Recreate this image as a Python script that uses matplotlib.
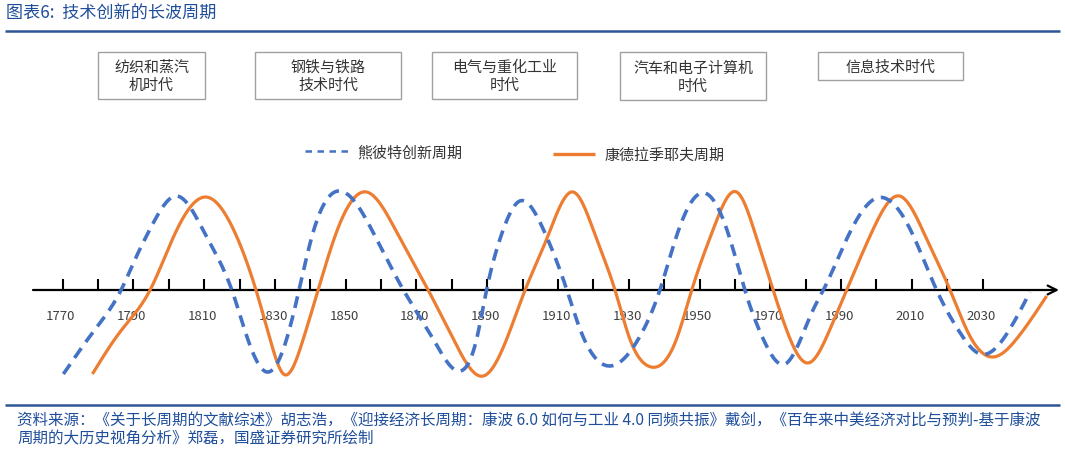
import numpy as np
import matplotlib
matplotlib.use("Agg")
import matplotlib.pyplot as plt
from matplotlib.patches import Rectangle

plt.rcParams['font.family'] = ['Noto Sans CJK SC', 'DejaVu Sans']

# ---------------- data ----------------
title = "图表6:  技术创新的长波周期"
source_lines = [
    "资料来源：《关于长周期的文献综述》胡志浩，《迎接经济长周期：康波 6.0 如何与工业 4.0 同频共振》戴剑，《百年来中美经济对比与预判-基于康波",
    "周期的大历史视角分析》郑磊，国盛证券研究所绘制",
]
eras = ["纺织和蒸汽\n机时代", "钢铁与铁路\n技术时代", "电气与重化工业\n时代",
        "汽车和电子计算机\n时代", "信息技术时代"]
series_names = ["熊彼特创新周期", "康德拉季耶夫周期"]
tick_years = list(range(1770, 2031, 10))
label_years = list(range(1770, 2031, 20))

schumpeter_year = [1770.2, 1778.6, 1786.5, 1790.9, 1794.7, 1802.2, 1810.7, 1817.8, 1822.0,
                   1827.7, 1833.3, 1836.8, 1840.8, 1847.9, 1858.7, 1866.3, 1874.7, 1881.8,
                   1887.0, 1889.8, 1893.6, 1899.2, 1905.8, 1912.5, 1916.2, 1924.7, 1933.2,
                   1938.8, 1943.5, 1951.5, 1958.6, 1962.8, 1968.0, 1974.2, 1982.2, 1985.0,
                   1991.6, 2000.1, 2009.5, 2017.0, 2023.5, 2029.3, 2037.7, 2043.4]
schumpeter_val = [-0.84, -0.42, 0.00, 0.34, 0.61, 0.94, 0.53, 0.00, -0.46,
                  -0.82, -0.49, 0.00, 0.58, 0.99, 0.51, 0.00, -0.49, -0.81,
                  -0.49, 0.00, 0.51, 0.89, 0.61, 0.00, -0.39, -0.76, -0.46,
                  0.00, 0.54, 0.97, 0.51, 0.00, -0.49, -0.74, -0.19, 0.00,
                  0.51, 0.92, 0.61, 0.00, -0.42, -0.64, -0.39, -0.02]

kondratieff_year = [1778.4, 1786.2, 1794.7, 1801.3, 1810.4, 1818.2, 1824.8, 1828.6, 1832.4,
                    1838.0, 1842.2, 1847.4, 1855.9, 1864.4, 1873.3, 1880.4, 1888.9, 1895.5,
                    1900.7, 1906.8, 1914.3, 1920.9, 1926.1, 1930.3, 1935.5, 1943.5, 1947.8,
                    1953.9, 1960.5, 1966.2, 1970.8, 1975.6, 1980.6, 1986.9, 1991.6, 1999.1,
                    2006.5, 2014.2, 2020.8, 2026.4, 2033.0, 2039.6, 2048.1]
kondratieff_val = [-0.84, -0.42, 0.00, 0.53, 0.93, 0.61, -0.02, -0.49, -0.84,
                   -0.49, 0.00, 0.58, 0.98, 0.58, 0.00, -0.49, -0.86, -0.49,
                   0.00, 0.51, 0.98, 0.51, 0.00, -0.49, -0.76, -0.49, 0.00,
                   0.61, 0.98, 0.51, 0.00, -0.49, -0.73, -0.39, 0.00, 0.61,
                   0.94, 0.51, 0.00, -0.46, -0.67, -0.49, -0.06]

# ---------------- helpers ----------------
def smooth(x, y, n=30):
    """Natural cubic spline drawn through the read points (smoothed line style)."""
    x = np.asarray(x, float)
    y = np.asarray(y, float)
    N = len(x)
    h = np.diff(x)
    A = np.zeros((N, N))
    r = np.zeros(N)
    A[0, 0] = 1.0
    A[-1, -1] = 1.0
    for i in range(1, N - 1):
        A[i, i - 1] = h[i - 1]
        A[i, i] = 2 * (h[i - 1] + h[i])
        A[i, i + 1] = h[i]
        r[i] = 6 * ((y[i + 1] - y[i]) / h[i] - (y[i] - y[i - 1]) / h[i - 1])
    M = np.linalg.solve(A, r)
    xs, ys = [], []
    for k in range(N - 1):
        t = np.linspace(x[k], x[k + 1], n, endpoint=False)
        a = x[k + 1] - t
        b = t - x[k]
        v = (M[k] * a ** 3 + M[k + 1] * b ** 3) / (6 * h[k]) \
            + (y[k] / h[k] - M[k] * h[k] / 6) * a + (y[k + 1] / h[k] - M[k + 1] * h[k] / 6) * b
        xs.append(t)
        ys.append(v)
    xs.append([x[-1]])
    ys.append([y[-1]])
    return np.concatenate(xs), np.concatenate(ys)

BLUE = "#4472C4"
ORANGE = "#ED7D31"
NAVY = "#1F4E9A"
GRAY_TXT = "#404040"

W, H = 1065, 452
fig = plt.figure(figsize=(W / 100, H / 100), dpi=100)

# pixel-space layout axes
axp = fig.add_axes([0, 0, 1, 1])
axp.set_xlim(0, W)
axp.set_ylim(H, 0)
axp.axis("off")

# data axes: year -> px = 62.7 + (year-1770)*3.538 ; value -> py = 291 - 100*v
PX0, PPY = 62.7, 3.538
ax = fig.add_axes([0, 0, 1, 1])
ax.set_xlim(1770 - PX0 / PPY, 1770 + (W - PX0) / PPY)
ax.set_ylim((291 - H) / 100, 291 / 100)
ax.axis("off")
ax.patch.set_alpha(0)

# title and rules
axp.text(6, 14, title, fontsize=12.3, color=NAVY, style="italic", ha="left", va="center")
axp.plot([5, 1060], [32, 32], color="#2E5596", lw=1.8, solid_capstyle="butt")
axp.plot([5, 1060], [406, 406], color="#2E5596", lw=1.8, solid_capstyle="butt")
axp.text(17, 420, source_lines[0], fontsize=11.2, color=NAVY, style="italic", ha="left", va="center")
axp.text(17, 439, source_lines[1], fontsize=11.2, color=NAVY, style="italic", ha="left", va="center")

# era boxes
boxes = [(98, 53, 107, 47), (255, 53, 146, 47), (432, 53, 145, 47), (620, 53, 146, 48), (818, 53, 145, 28)]
for (bx, by, bw, bh), lab in zip(boxes, eras):
    axp.add_patch(Rectangle((bx, by), bw, bh, fill=False, ec="#A0A0A0", lw=1.0))
    axp.text(bx + bw / 2, by + bh / 2 + 0.5, lab, fontsize=10.8, color="#333333",
             ha="center", va="center", linespacing=1.35)

# legend
axp.plot([305, 348], [152, 152], color=BLUE, lw=1.8, dashes=(2.6, 2.2))
axp.text(357, 153, series_names[0], fontsize=10.8, color="#333333", ha="left", va="center")
axp.plot([553, 595], [155, 155], color=ORANGE, lw=2.4, solid_capstyle="butt")
axp.text(605, 156, series_names[1], fontsize=10.8, color="#333333", ha="left", va="center")

# time axis with arrow
x_start = 1770 + (33 - PX0) / PPY
x_end = 1770 + (1059 - PX0) / PPY
ax.annotate("", xy=(x_end, 0), xytext=(x_start, 0),
            arrowprops=dict(arrowstyle="->", lw=1.6, color="black", mutation_scale=16,
                            shrinkA=0, shrinkB=0))
ax.vlines(tick_years, 0, 0.11, color="black", lw=1.5)
for yr in label_years:
    ax.text(yr - 0.5, -0.25, str(yr), fontsize=9.5, color=GRAY_TXT, ha="center", va="center")

# curves
sx, sy = smooth(schumpeter_year, schumpeter_val)
kx, ky = smooth(kondratieff_year, kondratieff_val)
ax.plot(kx, ky, color=ORANGE, lw=2.3, solid_capstyle="butt", zorder=3)
ax.plot(sx, sy, color=BLUE, lw=2.6, dashes=(3.3, 2.1), dash_capstyle="butt", zorder=4)

fig.savefig("out.png", dpi=100)
